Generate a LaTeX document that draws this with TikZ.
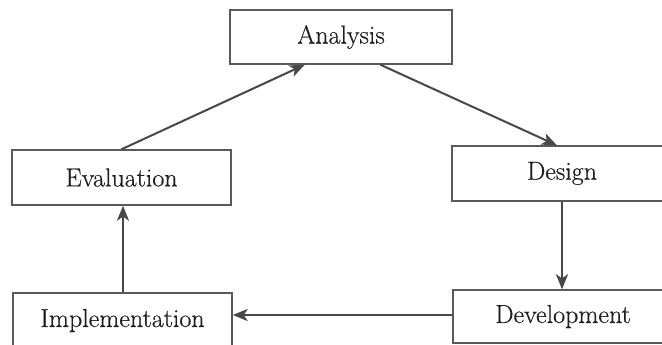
\documentclass[tikz,border=0pt]{standalone}
\usepackage{fontspec}
\setmainfont{Latin Modern Roman}[FakeBold=0.4]
\usetikzlibrary{arrows.meta,calc}
\definecolor{boxline}{HTML}{5A5A5A}
\definecolor{arrowline}{HTML}{484848}
\definecolor{txt}{HTML}{1E1E1E}
\begin{document}
\begin{tikzpicture}[x=1pt,y=-1pt,
  stagebox/.style={draw=boxline,line width=1.4pt,fill=white,inner sep=0pt,
    text=txt,font=\fontsize{26}{30}\selectfont},
  flow/.style={draw=arrowline,line width=2pt,
    -{Stealth[length=15pt,width=12pt,inset=4pt]}}]
\clip (0,0) rectangle (662,345);
\fill[white] (0,0) rectangle (662,345);
\node[stagebox,minimum width=222pt,minimum height=54pt] (ana) at (341,37) {Analysis};
\node[stagebox,minimum width=219pt,minimum height=55pt] (eval) at (121.5,177.5) {Evaluation};
\node[stagebox,minimum width=220pt,minimum height=55pt] (des) at (562,173.5) {Design};
\node[stagebox,minimum width=219pt,minimum height=55pt] (imp) at (122.5,320.5) {Implementation};
\node[stagebox,minimum width=220pt,minimum height=53pt] (dev) at (563,316.5) {Development};
\draw[flow] (eval.north) -- ($(ana.south west)!0.338!(ana.south east)$);
\draw[flow] ($(ana.south west)!0.676!(ana.south east)$) -- ($(des.north west)!0.477!(des.north east)$);
\draw[flow] (des.south) -- (des.south |- dev.north);
\draw[flow] ([yshift=1.5pt]dev.west) -- ([yshift=1.5pt]dev.west -| imp.east);
\draw[flow] ([xshift=0.5pt]imp.north) -- ([xshift=0.5pt]imp.north |- eval.south);
\end{tikzpicture}
\end{document}
